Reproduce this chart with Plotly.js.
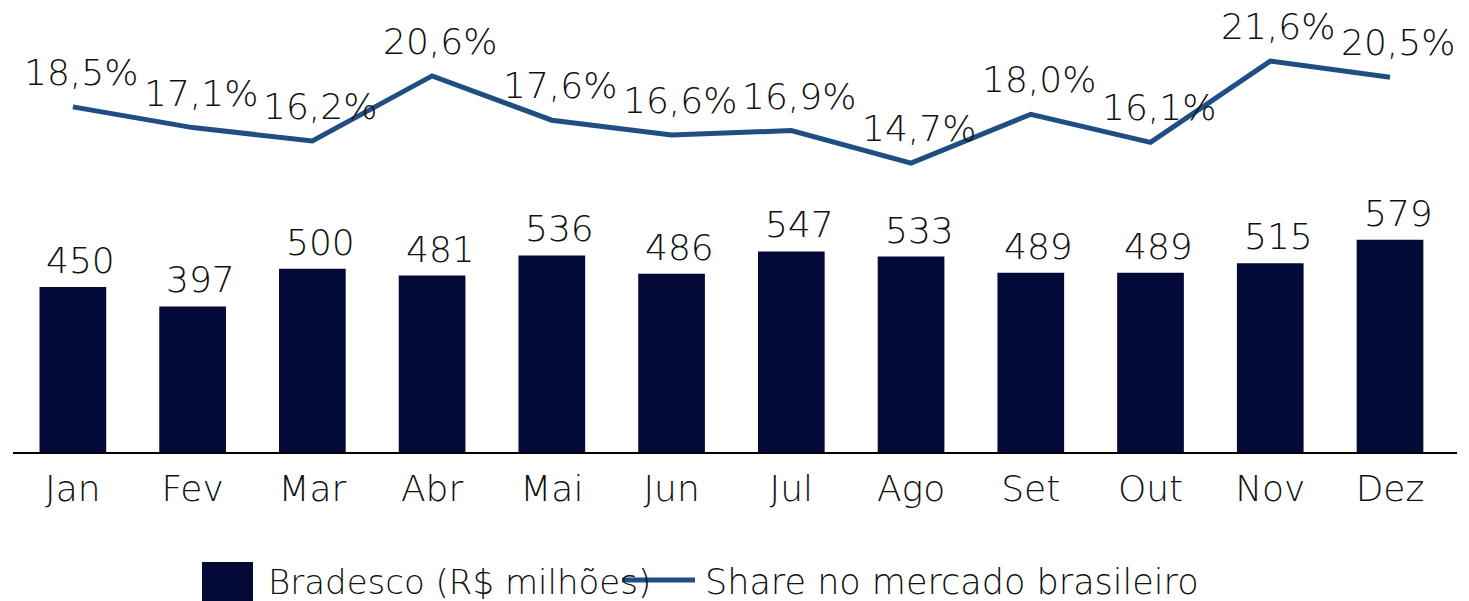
<!DOCTYPE html>
<html><head><meta charset="utf-8">
<script src="https://cdn.plot.ly/plotly-3.0.1.min.js"></script>
<style>html,body{margin:0;padding:0;background:#fff;overflow:hidden}#chart{width:1469px;height:601px}</style>
</head><body><div id="chart"></div>
<script>
const months = ["Jan","Fev","Mar","Abr","Mai","Jun","Jul","Ago","Set","Out","Nov","Dez"];
const bradesco = [450,397,500,481,536,486,547,533,489,489,515,579];
const share = [18.5,17.1,16.2,20.6,17.6,16.6,16.9,14.7,18.0,16.1,21.6,20.5];
const seriesNames = ["Bradesco (R$ milhões)", "Share no mercado brasileiro"];
const shareLabels = share.map(v => v.toFixed(1).replace(".", ",") + "%");

const fontFam = "DejaVu Sans ExtraLight, DejaVu Sans, sans-serif";
const labelFont = {family:fontFam, size:36, color:"#111", weight:200};
const barColor = "#040A38", lineColor = "#1F4E82";

const traces = [
  {type:"bar", x:months, y:bradesco, name:seriesNames[0], showlegend:false,
   marker:{color:barColor}, hoverinfo:"skip"},
  {type:"scatter", mode:"lines", x:months, y:share, yaxis:"y2", name:seriesNames[1], showlegend:false,
   line:{color:lineColor, width:5}, cliponaxis:false, hoverinfo:"skip"}
];

const annotations = [];
months.forEach((m, i) => {
  annotations.push({x:m, y:bradesco[i], xref:"x", yref:"y", text:String(bradesco[i]),
    showarrow:false, xanchor:"center", yanchor:"bottom", xshift:8, yshift:4, font:labelFont});
  annotations.push({x:m, y:share[i], xref:"x", yref:"y2", text:shareLabels[i],
    showarrow:false, xanchor:"center", yanchor:"bottom", xshift:8, yshift:12, font:labelFont});
});
// custom legend (paper coordinates)
const H = 601, W = 1469, mL = 13, mR = 12, mT = 20, mB = 149;
const pw = W - mL - mR, ph = H - mT - mB;
const px = x => (x - mL) / pw, py = y => (H - mB - y) / ph;
annotations.push({xref:"paper", yref:"paper", x:px(266), y:py(582), xanchor:"left", yanchor:"middle",
  text:seriesNames[0], showarrow:false, font:{family:fontFam, size:34, color:"#111", weight:200}});
annotations.push({xref:"paper", yref:"paper", x:px(703), y:py(582), xanchor:"left", yanchor:"middle",
  text:seriesNames[1], showarrow:false, font:{family:fontFam, size:35, color:"#111", weight:200}});
const shapes = [
  {type:"rect", xref:"paper", yref:"paper", x0:px(202), x1:px(253), y0:py(562), y1:py(603),
   fillcolor:barColor, line:{width:0}},
  {type:"line", xref:"paper", yref:"paper", x0:px(622), x1:px(695), y0:py(580), y1:py(580),
   line:{color:lineColor, width:5}}
];

const layout = {
  width:W, height:H,
  margin:{l:mL, r:mR, t:mT, b:mB, autoexpand:false},
  paper_bgcolor:"#fff", plot_bgcolor:"#fff",
  bargap:0.443,
  showlegend:false,
  annotations:annotations, shapes:shapes,
  xaxis:{showline:true, linecolor:"#000", linewidth:2, showgrid:false, zeroline:false, automargin:false,
         tickfont:{family:fontFam, size:36, color:"#111", weight:200}, ticks:"", ticklabelstandoff:4},
  yaxis:{range:[0,1178], visible:false, showgrid:false, zeroline:false, automargin:false},
  yaxis2:{range:[-4.85,24.38], overlaying:"y", side:"right", visible:false, showgrid:false, zeroline:false, automargin:false},
  font:{family:fontFam}
};
Plotly.newPlot("chart", traces, layout, {displayModeBar:false, staticPlot:true});
</script></body></html>
